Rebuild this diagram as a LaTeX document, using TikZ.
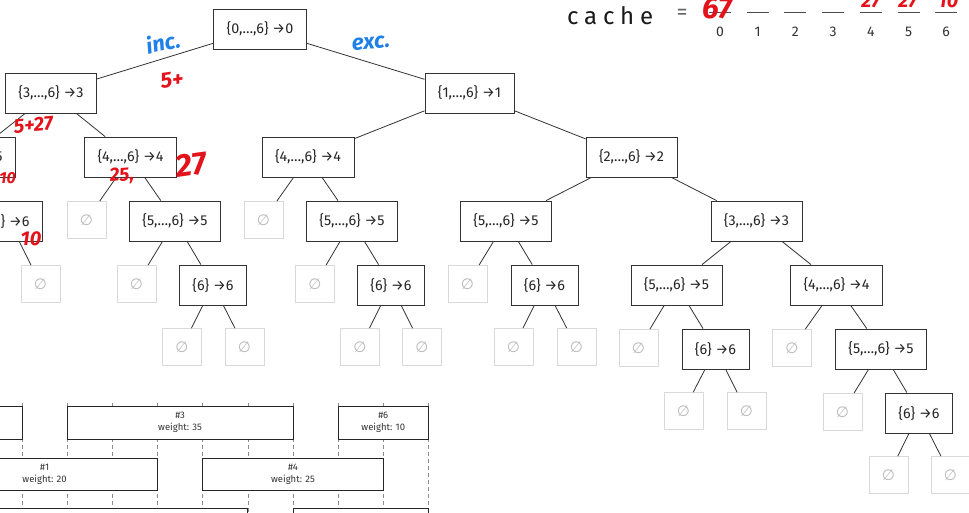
\documentclass[tikz,border=0pt]{standalone}
\usepackage{fontspec}
\setmainfont{Fira Sans}
\newfontfamily\symfont{DejaVu Sans}
\newcommand{\es}{{\symfont ∅}}
\definecolor{inkred}{HTML}{E3121B}
\definecolor{inkblue}{HTML}{1F80E8}
\tikzset{
  st/.style={draw=black!80, line width=0.8pt, fill=white, inner xsep=13pt, inner ysep=0pt,
    minimum height=40pt, text=black!85, font=\fontsize{14.3}{16}\selectfont},
  emp/.style={draw=black!15, line width=0.8pt, fill=white, minimum width=39pt, minimum height=37pt,
    inner sep=0pt, text=black!28, font=\fontsize{15}{16}\selectfont},
  edge/.style={draw=black!80, line width=0.8pt},
  bar/.style={draw=black!85, line width=0.9pt, fill=white},
  barlbl/.style={text=black!80, font=\fontsize{9.5}{11}\selectfont, inner sep=0pt},
  grid/.style={draw=black!45, line width=0.6pt, dash pattern=on 4pt off 3pt},
  slot/.style={draw=black!70, line width=1pt},
  idx/.style={text=black!80, font=\fontsize{14}{16}\selectfont, inner sep=0pt},
  hand/.style={text=inkred, font=\fontsize{#1}{#1}\selectfont\bfseries\itshape, inner sep=0pt},
  bluehand/.style={text=inkblue, font=\fontsize{#1}{#1}\selectfont\bfseries\itshape, inner sep=0pt}
}
\begin{document}
\begin{tikzpicture}[x=1pt,y=-1pt]
\useasboundingbox (0,0) rectangle (969,513);
\clip (0,0) rectangle (969,513);
\fill[white] (0,0) rectangle (969,513);

% ---------- interval chart ----------
\foreach \k in {0,...,9} {
  \draw[grid] ({22+45.17*\k},403) -- ({22+45.17*\k},513);
}
\path[bar] (-50,406) rectangle (22,439);
\path[bar] (67.2,406) rectangle (293,439);
\path[bar] (338.2,406) rectangle (428.5,439);
\path[bar] (-68.3,458) rectangle (157.5,490);
\path[bar] (202.7,458) rectangle (383.3,490);
\path[bar] (-23.2,508) rectangle (247.8,541);
\path[bar] (293,508) rectangle (428.5,541);
\node[barlbl] (i3) at (180.1,415) {\#3};
\node[barlbl] (w3) at (180.1,428) {weight: 35};
\node[barlbl] (i6) at (383.3,415) {\#6};
\node[barlbl] (w6) at (383.3,428) {weight: 10};
\node[barlbl] (i1) at (44.6,467) {\#1};
\node[barlbl] (w1) at (44.6,480) {weight: 20};
\node[barlbl] (i4) at (293,467) {\#4};
\node[barlbl] (w4) at (293,480) {weight: 25};

% ---------- recursion tree ----------
\node[st] (root) at (260,29) {\{0,…,6\} →0};
\node[st] (a) at (51,93) {\{3,…,6\} →3};
\node[st] (b) at (469.5,93) {\{1,…,6\} →1};

\node[st] (aa) at (-30,157) {\{5,…,6\} →5};
\node[st] (ab) at (130.5,157) {\{4,…,6\} →4};
\node[st] (ba) at (308,157) {\{4,…,6\} →4};
\node[st] (bb) at (631.5,157) {\{2,…,6\} →2};

\node[emp] (aaa) at (-68,220) {\es};
\node[st] (aab) at (9,221) {\{6\} →6};
\node[emp] (aba) at (86.5,220) {\es};
\node[st] (abb) at (175,221) {\{5,…,6\} →5};
\node[emp] (baa) at (263.5,220) {\es};
\node[st] (bab) at (352,221) {\{5,…,6\} →5};
\node[st] (bba) at (506,221) {\{5,…,6\} →5};
\node[st] (bbb) at (756.5,221) {\{3,…,6\} →3};

\node[emp] (aaba) at (-22,284) {\es};
\node[emp] (aabb) at (40.5,284) {\es};
\node[emp] (abba) at (136.5,284) {\es};
\node[st] (abbb) at (213,285) {\{6\} →6};
\node[emp] (baba) at (315,284) {\es};
\node[st] (babb) at (391,285) {\{6\} →6};
\node[emp] (bbaa) at (467.5,284) {\es};
\node[st] (bbab) at (544.5,285) {\{6\} →6};
\node[st] (bbba) at (676.5,285) {\{5,…,6\} →5};
\node[st] (bbbb) at (836.5,285) {\{4,…,6\} →4};

\node[emp] (abbba) at (182,347) {\es};
\node[emp] (abbbb) at (244.5,347) {\es};
\node[emp] (babba) at (360,347) {\es};
\node[emp] (babbb) at (422,347) {\es};
\node[emp] (bbaba) at (513.5,347) {\es};
\node[emp] (bbabb) at (576.5,347) {\es};
\node[emp] (bbbaa) at (638.5,348) {\es};
\node[st] (bbbab) at (715.5,349) {\{6\} →6};
\node[emp] (bbbba) at (792,348) {\es};
\node[st] (bbbbb) at (881,349) {\{5,…,6\} →5};

\node[emp] (bbbaba) at (683.5,411) {\es};
\node[emp] (bbbabb) at (746.5,411) {\es};
\node[emp] (bbbbba) at (842.5,412) {\es};
\node[st] (bbbbbb) at (919,413) {\{6\} →6};

\node[emp] (bbbbbba) at (888.5,475) {\es};
\node[emp] (bbbbbbb) at (950.5,475) {\es};

\foreach \p/\c in {root/a,root/b,a/aa,a/ab,b/ba,b/bb,
  aa/aaa,aa/aab,ab/aba,ab/abb,ba/baa,ba/bab,bb/bba,bb/bbb,
  aab/aaba,aab/aabb,abb/abba,abb/abbb,bab/baba,bab/babb,bba/bbaa,bba/bbab,bbb/bbba,bbb/bbbb,
  abbb/abbba,abbb/abbbb,babb/babba,babb/babbb,bbab/bbaba,bbab/bbabb,
  bbba/bbbaa,bbba/bbbab,bbbb/bbbba,bbbb/bbbbb,
  bbbab/bbbaba,bbbab/bbbabb,bbbbb/bbbbba,bbbbb/bbbbbb,
  bbbbbb/bbbbbba,bbbbbb/bbbbbbb} {
  \draw[edge] (\p) -- (\c);
}

% ---------- cache ----------
\node[anchor=base west, inner sep=0pt, text=black!90,
  font=\fontsize{24}{26}\selectfont\addfontfeature{LetterSpace=24}] (cache) at (567,25) {cache};
\node[inner sep=0pt, text=black!60, font=\fontsize{22}{24}\selectfont] (eq) at (682,14) {=};
\foreach \i in {0,...,6} {
  \coordinate (s\i a) at ({709+37.7*\i},13);
  \coordinate (s\i b) at ({731+37.7*\i},13);
  \draw[slot] (s\i a) -- (s\i b);
  \node[idx] (n\i) at ({720+37.7*\i},32) {\i};
}

% ---------- handwritten notes ----------
\node[bluehand=22, rotate=12] (inc) at (163,42) {inc.};
\node[bluehand=22, rotate=4] (exc) at (371,43) {exc.};
\node[hand=22, rotate=8] (h1) at (172,80) {5+};
\node[hand=20, anchor=east, rotate=5] (h2) at (53,123) {5+27};
\node[hand=19, rotate=5] (h3) at (122,176) {25,};
\node[hand=32, rotate=8] (h4) at (191,165) {27};
\node[hand=16, anchor=east] (h5) at (16,178) {10};
\node[hand=20] (h6) at (31,239) {10};
\node[hand=30, anchor=south] (c0) at (717,19) {67};
\node[hand=20, anchor=south] (c4) at (871,8) {27};
\node[hand=20, anchor=south] (c5) at (908,8) {27};
\node[hand=20, anchor=south] (c6) at (948,8) {10};
\end{tikzpicture}
\end{document}
